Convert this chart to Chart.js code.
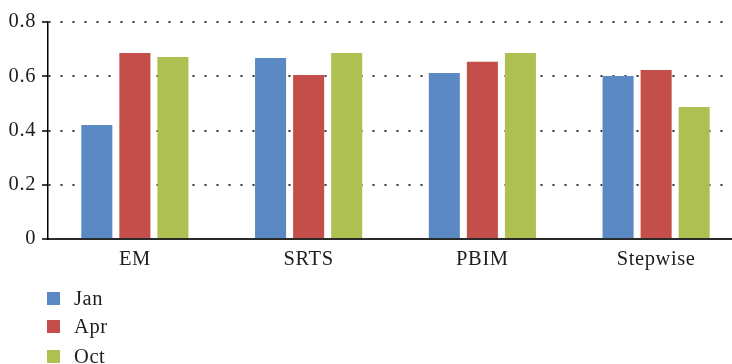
<!DOCTYPE html>
<html>
<head>
<meta charset="utf-8">
<script src="https://cdn.jsdelivr.net/npm/chart.js@4.4.1/dist/chart.umd.min.js"></script>
<style>
  html, body { margin: 0; padding: 0; background: #fff; overflow: hidden; }
  #wrap { position: relative; width: 732px; height: 364px; overflow: hidden; }
  #chart { position: absolute; left: 0; top: 0; }
  #legend { position: absolute; left: 47px; top: 286px; font-family: "Liberation Serif", "Times New Roman", serif; font-size: 20.5px; letter-spacing: 0.6px; color: #1e1e1e; }
  .item { position: absolute; left: 0; height: 24px; display: flex; align-items: center; white-space: nowrap; }
  .swatch { width: 13px; height: 13px; margin-right: 14px; }
</style>
</head>
<body>
<div id="wrap">
  <canvas id="chart" width="743" height="364"></canvas>
  <div id="legend"></div>
</div>
<script>
// Methods compared on the horizontal axis
const categories = ["EM", "SRTS", "PBIM", "Stepwise"];
// One series per month
const seriesNames = ["Jan", "Apr", "Oct"];
const janValues = [0.420, 0.667, 0.612, 0.601];
const aprValues = [0.686, 0.605, 0.653, 0.623];
const octValues = [0.671, 0.686, 0.686, 0.487];
const yTicks = [0, 0.2, 0.4, 0.6, 0.8];

const colors = ["#5b89c4", "#c34e4a", "#afc053"];
const values = [janValues, aprValues, octValues];
const serif = "'Liberation Serif', 'Times New Roman', serif";

const datasets = seriesNames.map((name, i) => ({
  label: name,
  data: values[i],
  backgroundColor: colors[i],
  borderWidth: 0,
  categoryPercentage: 0.657,
  barPercentage: 0.816
}));

// Slightly looser letter spacing for all canvas text
const spacing = {
  id: "spacing",
  beforeDraw(chart) { chart.ctx.letterSpacing = "0.6px"; }
};

const chart = new Chart(document.getElementById("chart"), {
  type: "bar",
  data: { labels: categories, datasets },
  plugins: [spacing],
  options: {
    responsive: false,
    animation: false,
    layout: { padding: { top: 22, left: 0, right: 0, bottom: 0 } },
    plugins: { legend: { display: false }, tooltip: { enabled: false } },
    scales: {
      x: {
        grid: { display: true, drawOnChartArea: false, drawTicks: false },
        border: { color: "#2a2a2a", width: 2 },
        ticks: { color: "#1e1e1e", font: { family: serif, size: 20.5 }, padding: 8 },
        afterFit: (s) => { s.height = 125; }
      },
      y: {
        min: 0,
        max: 0.8,
        afterBuildTicks: (s) => { s.ticks = yTicks.map(v => ({ value: v })); },
        grid: {
          color: "rgba(30,30,30,0.9)",
          lineWidth: 2,
          tickColor: "#000",
          tickLength: 6,
          tickWidth: 1.5,
          tickBorderDash: []
        },
        border: { color: "#000", width: 1.5, dash: [2, 10] },
        ticks: {
          color: "#1e1e1e",
          font: { family: serif, size: 20.5 },
          padding: 6,
          callback: (v) => String(v)
        },
        afterFit: (s) => { s.width = 48; }
      }
    }
  }
});

// Legend listed vertically below the plot
const legend = document.getElementById("legend");
const rowTops = [0, 28, 58];
chart.data.datasets.forEach((ds, i) => {
  const item = document.createElement("div");
  item.className = "item";
  item.style.top = rowTops[i] + "px";
  const sw = document.createElement("span");
  sw.className = "swatch";
  sw.style.background = ds.backgroundColor;
  const tx = document.createElement("span");
  tx.textContent = ds.label;
  item.appendChild(sw);
  item.appendChild(tx);
  legend.appendChild(item);
});
</script>
</body>
</html>
